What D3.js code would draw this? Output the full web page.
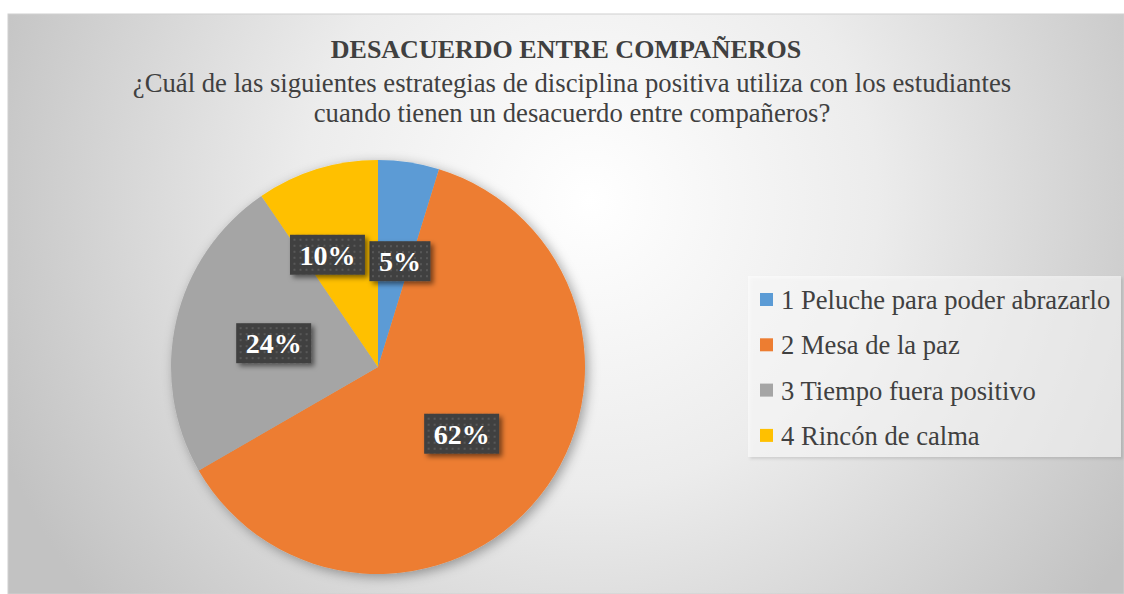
<!DOCTYPE html>
<html>
<head>
<meta charset="utf-8">
<script src="https://cdn.jsdelivr.net/npm/d3@7"></script>
<style>
  html, body { margin: 0; padding: 0; background: #ffffff; }
  svg { display: block; }
  svg text { font-family: "Liberation Serif", "DejaVu Serif", "Noto Serif", serif; }
</style>
</head>
<body>
<svg id="chart" width="1124" height="594"></svg>
<script>
const categories = ["1 Peluche para poder abrazarlo", "2 Mesa de la paz", "3 Tiempo fuera positivo", "4 Rincón de calma"];
const values = [1, 13, 5, 2];
const labels = ["5%", "62%", "24%", "10%"];
const colors = ["#5B9BD5", "#ED7D31", "#A5A5A5", "#FFC000"];
const title = "DESACUERDO ENTRE COMPAÑEROS";
const subtitle = ["¿Cuál de las siguientes estrategias de disciplina positiva utiliza con los estudiantes", "cuando tienen un desacuerdo entre compañeros?"];

const svg = d3.select("#chart");
const defs = svg.append("defs");

const rg = defs.append("radialGradient").attr("id", "bg")
  .attr("gradientUnits", "userSpaceOnUse")
  .attr("cx", 590).attr("cy", 200).attr("r", 640);
rg.append("stop").attr("offset", "0%").attr("stop-color", "#ffffff");
rg.append("stop").attr("offset", "45%").attr("stop-color", "#ececec");
rg.append("stop").attr("offset", "100%").attr("stop-color", "#c2c2c2");

const f = defs.append("filter").attr("id", "pieShadow").attr("x", "-20%").attr("y", "-20%").attr("width", "140%").attr("height", "140%");
f.append("feDropShadow").attr("dx", 3).attr("dy", 3).attr("stdDeviation", 6).attr("flood-color", "#000").attr("flood-opacity", 0.35);

const f2 = defs.append("filter").attr("id", "boxShadow").attr("x", "-30%").attr("y", "-30%").attr("width", "160%").attr("height", "160%");
f2.append("feDropShadow").attr("dx", 3).attr("dy", 3).attr("stdDeviation", 2.5).attr("flood-color", "#000").attr("flood-opacity", 0.5);

const f3 = defs.append("filter").attr("id", "legShadow").attr("x", "-10%").attr("y", "-10%").attr("width", "120%").attr("height", "130%");
f3.append("feDropShadow").attr("dx", 2).attr("dy", 2).attr("stdDeviation", 1.5).attr("flood-color", "#000").attr("flood-opacity", 0.2);

const pat = defs.append("pattern").attr("id", "dots").attr("patternUnits", "userSpaceOnUse").attr("width", 6).attr("height", 6);
pat.append("rect").attr("width", 6).attr("height", 6).attr("fill", "#404040");
pat.append("rect").attr("x", 2).attr("y", 2).attr("width", 2).attr("height", 2).attr("fill", "#585858");

svg.append("rect").attr("x", 8).attr("y", 14).attr("width", 1116).attr("height", 580)
  .attr("fill", "url(#bg)").attr("stroke", "#d0d0d0").attr("stroke-width", 1);

svg.append("text").attr("x", 566).attr("y", 58).attr("text-anchor", "middle")
  .attr("font-weight", "bold").attr("font-size", 26)
  .attr("fill", "#404040").text(title);
svg.selectAll("text.sub").data(subtitle).join("text").attr("class", "sub")
  .attr("x", 572).attr("y", (d, i) => 92 + i * 30).attr("text-anchor", "middle")
  .attr("font-size", 26.7).attr("fill", "#404040").text(d => d);

const cx = 378, cy = 367, R = 207;
const pie = d3.pie().sort(null).value(d => d);
const arcs = pie(values);
const arc = d3.arc().innerRadius(0).outerRadius(R);
const g = svg.append("g").attr("transform", `translate(${cx},${cy})`);
g.append("g").attr("filter", "url(#pieShadow)")
  .selectAll("path").data(arcs).join("path")
  .attr("d", arc).attr("fill", (d, i) => colors[i]);

const labelArc = d3.arc().innerRadius(0).outerRadius(2 * 107);
const nudge = [[6, 0], [0, 0], [0, 0], [-19, -10]];
const lg = g.selectAll("g.lab").data(arcs).join("g").attr("class", "lab")
  .attr("transform", (d, i) => {
    const c = labelArc.centroid(d);
    return `translate(${c[0] + nudge[i][0]},${c[1] + nudge[i][1]})`;
  });
lg.each(function (d, i) {
  const sel = d3.select(this);
  const t = sel.append("text").attr("text-anchor", "middle").attr("y", 10)
    .attr("font-weight", "bold").attr("font-size", 28)
    .attr("fill", "#ffffff").text(labels[i]);
  const w = t.node().getComputedTextLength() + 19;
  sel.insert("rect", "text").attr("x", -w / 2).attr("y", -20).attr("width", w).attr("height", 40)
    .attr("fill", "url(#dots)").attr("filter", "url(#boxShadow)");
});

const lx = 748, ly = 276;
svg.append("rect").attr("x", lx).attr("y", ly).attr("width", 373).attr("height", 181)
  .attr("fill", "#ffffff").attr("fill-opacity", 0.55).attr("filter", "url(#legShadow)");
const items = svg.selectAll("g.leg").data(categories).join("g").attr("class", "leg")
  .attr("transform", (d, i) => `translate(${lx + 12},${ly + 24 + i * 45.3})`);
items.append("rect").attr("x", 0).attr("y", -7).attr("width", 13).attr("height", 13)
  .attr("fill", (d, i) => colors[i]);
items.append("text").attr("x", 21).attr("y", 9)
  .attr("font-size", 26.6).attr("fill", "#404040").text(d => d);
</script>
</body>
</html>
